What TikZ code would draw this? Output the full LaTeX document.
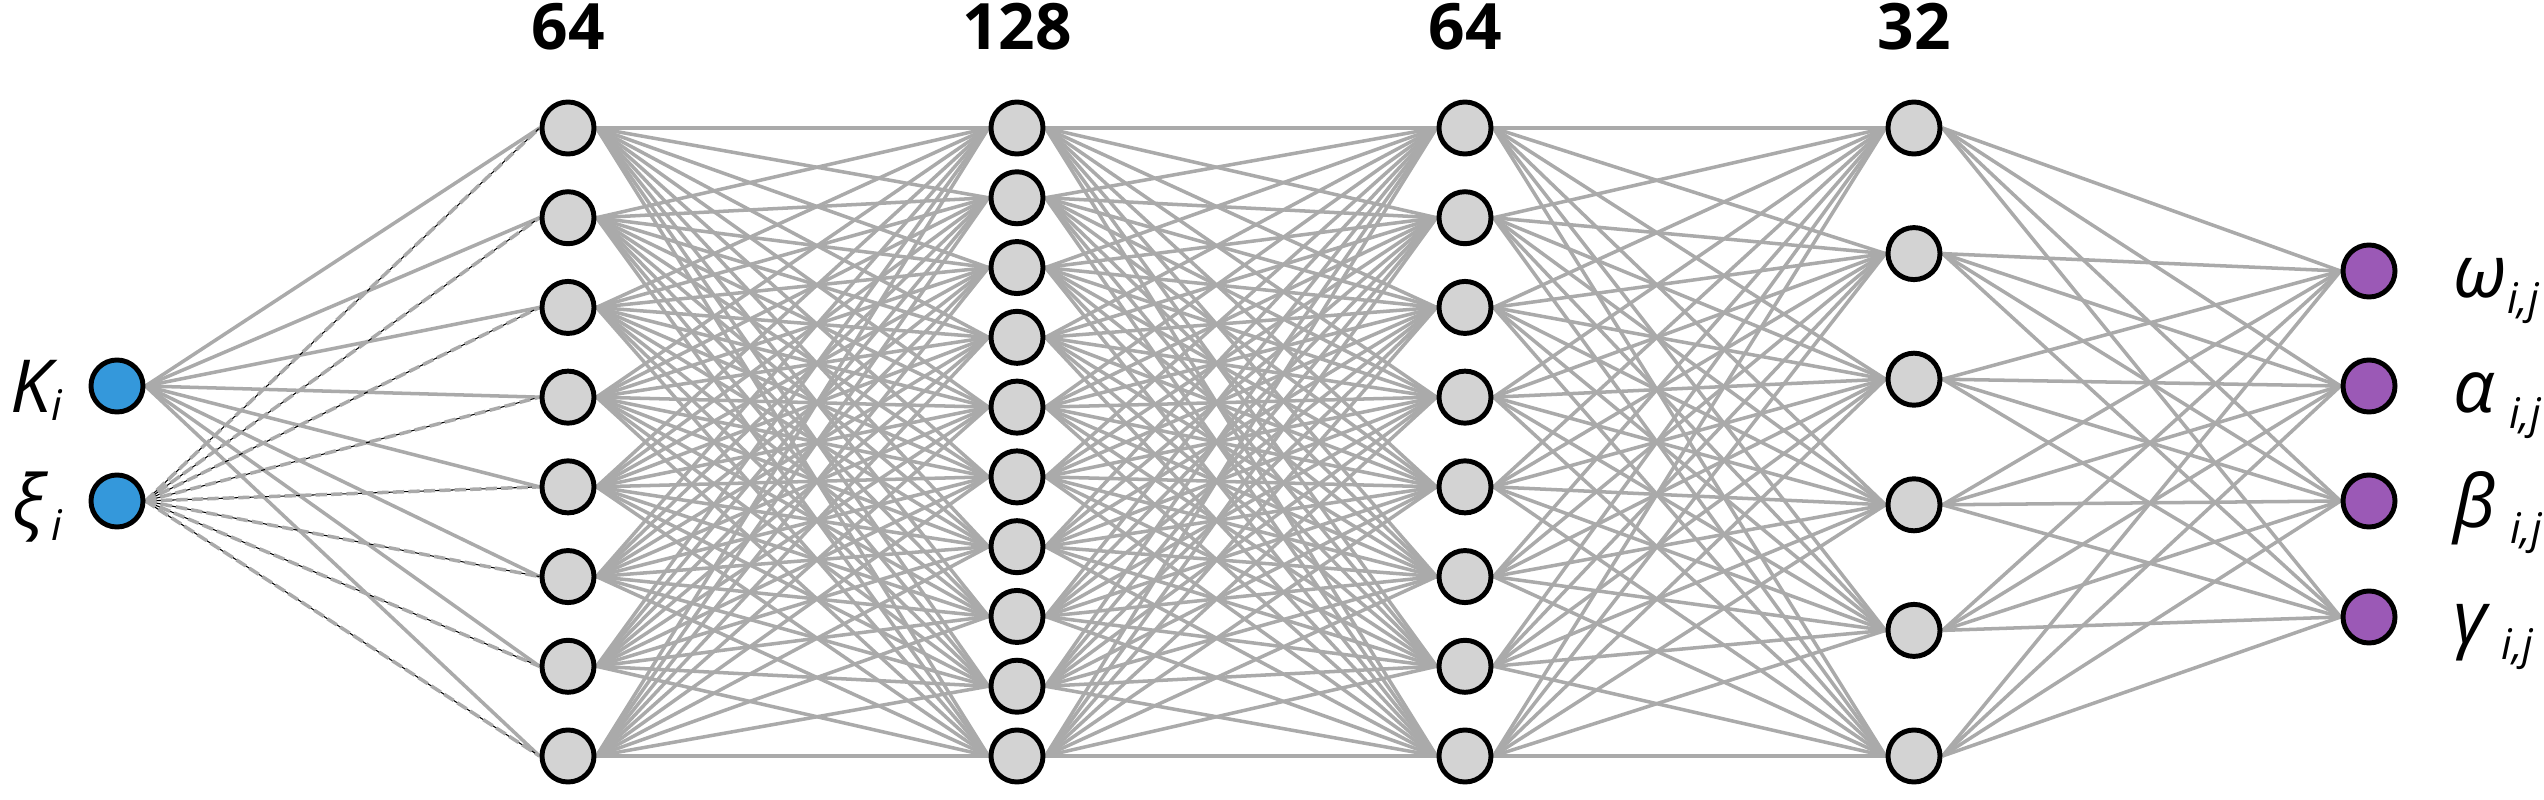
\documentclass[tikz,border=0pt]{standalone}
\usepackage{fontspec}
\setmainfont{Open Sans}
\usepackage{xcolor}
\usepackage{tikz}
\usetikzlibrary{positioning, backgrounds}
\definecolor{EdgeGray}{HTML}{AAAAAA}
\definecolor{NodeGray}{HTML}{D3D3D3}
\definecolor{InBlue}{HTML}{3498DB}
\definecolor{OutPurple}{HTML}{9B59B6}
% base symbol with a lowered, smaller subscript
\newcommand{\varsub}[3][4.6pt]{\itshape #2\raisebox{-#1}{\fontsize{12}{14}\selectfont #3}}

\begin{document}
\begin{tikzpicture}[
  x=0.01cm, y=-0.01cm,
  neuron/.style={circle, draw=black, line width=1.4pt, minimum size=0.52cm,
                 inner sep=0pt, fill=NodeGray},
  inneuron/.style={neuron, fill=InBlue},
  outneuron/.style={neuron, fill=OutPurple},
  wire/.style={draw=EdgeGray, line width=1pt},
  wireblack/.style={draw=black, line width=0.3pt},
  wiredash/.style={draw=EdgeGray, line width=1pt, dash pattern=on 3.2pt off 1.2pt},
  sizelbl/.style={font=\bfseries\fontsize{18.2}{20}\selectfont, anchor=base, inner sep=0pt},
  varlbl/.style={font=\fontsize{20.8}{24}\selectfont, inner sep=0pt},
]
\useasboundingbox (0,0) rectangle (2544,800);

% ===== Input layer =====
  \node[inneuron] (I1) at (117,386) {};
  \node[inneuron] (I2) at (117,501) {};
  \node[varlbl, anchor=base east] (KL) at (63,412) {\varsub[2.4pt]{K}{i}};
  \node[varlbl, anchor=base east] (XL) at (63,527) {\varsub[3.8pt]{ξ}{\,i}};

% ===== Hidden layers =====
  \foreach \k in {1,...,8}
    \node[neuron] (A\k) at (568,{128+(\k-1)*628/7}) {};
  \foreach \k in {1,...,10}
    \node[neuron] (B\k) at (1017,{128+(\k-1)*628/9}) {};
  \foreach \k in {1,...,8}
    \node[neuron] (C\k) at (1465,{128+(\k-1)*628/7}) {};
  \foreach \k in {1,...,6}
    \node[neuron] (D\k) at (1914,{128+(\k-1)*628/5}) {};

  \node[sizelbl] (SA) at (568,49) {64};
  \node[sizelbl] (SB) at (1017,49) {128};
  \node[sizelbl] (SC) at (1465,49) {64};
  \node[sizelbl] (SD) at (1914,49) {32};

% ===== Output layer =====
  \node[outneuron] (O1) at (2369,271) {};
  \node[outneuron] (O2) at (2369,386) {};
  \node[outneuron] (O3) at (2369,501) {};
  \node[outneuron] (O4) at (2369,617) {};
  \node[varlbl, anchor=base west] (WL) at (2453,297) {\varsub{ω}{i,j}};
  \node[varlbl, anchor=base west] (AL) at (2453,412) {\varsub{α}{\,\,i,j}};
  \node[varlbl, anchor=base west] (BL) at (2453,527) {\varsub{β}{\,\,i,j}};
  \node[varlbl, anchor=base west] (GL) at (2453,643) {\varsub{γ}{\,\,i,j}};

% ===== Connections =====
\begin{pgfonlayer}{background}
  \foreach \j in {1,...,8}
    \draw[wire] (I1.east) -- (A\j.west);
  \foreach \j in {1,...,8} {
    \draw[wireblack] (I2.east) -- (A\j.west);
    \draw[wiredash] (I2.east) -- (A\j.west);
  }
  \foreach \i in {1,...,8}
    \foreach \j in {1,...,10}
      \draw[wire] (A\i.east) -- (B\j.west);
  \foreach \i in {1,...,10}
    \foreach \j in {1,...,8}
      \draw[wire] (B\i.east) -- (C\j.west);
  \foreach \i in {1,...,8}
    \foreach \j in {1,...,6}
      \draw[wire] (C\i.east) -- (D\j.west);
  \foreach \i in {1,...,6}
    \foreach \j in {1,...,4}
      \draw[wire] (D\i.east) -- (O\j.west);
\end{pgfonlayer}

\end{tikzpicture}
\end{document}
